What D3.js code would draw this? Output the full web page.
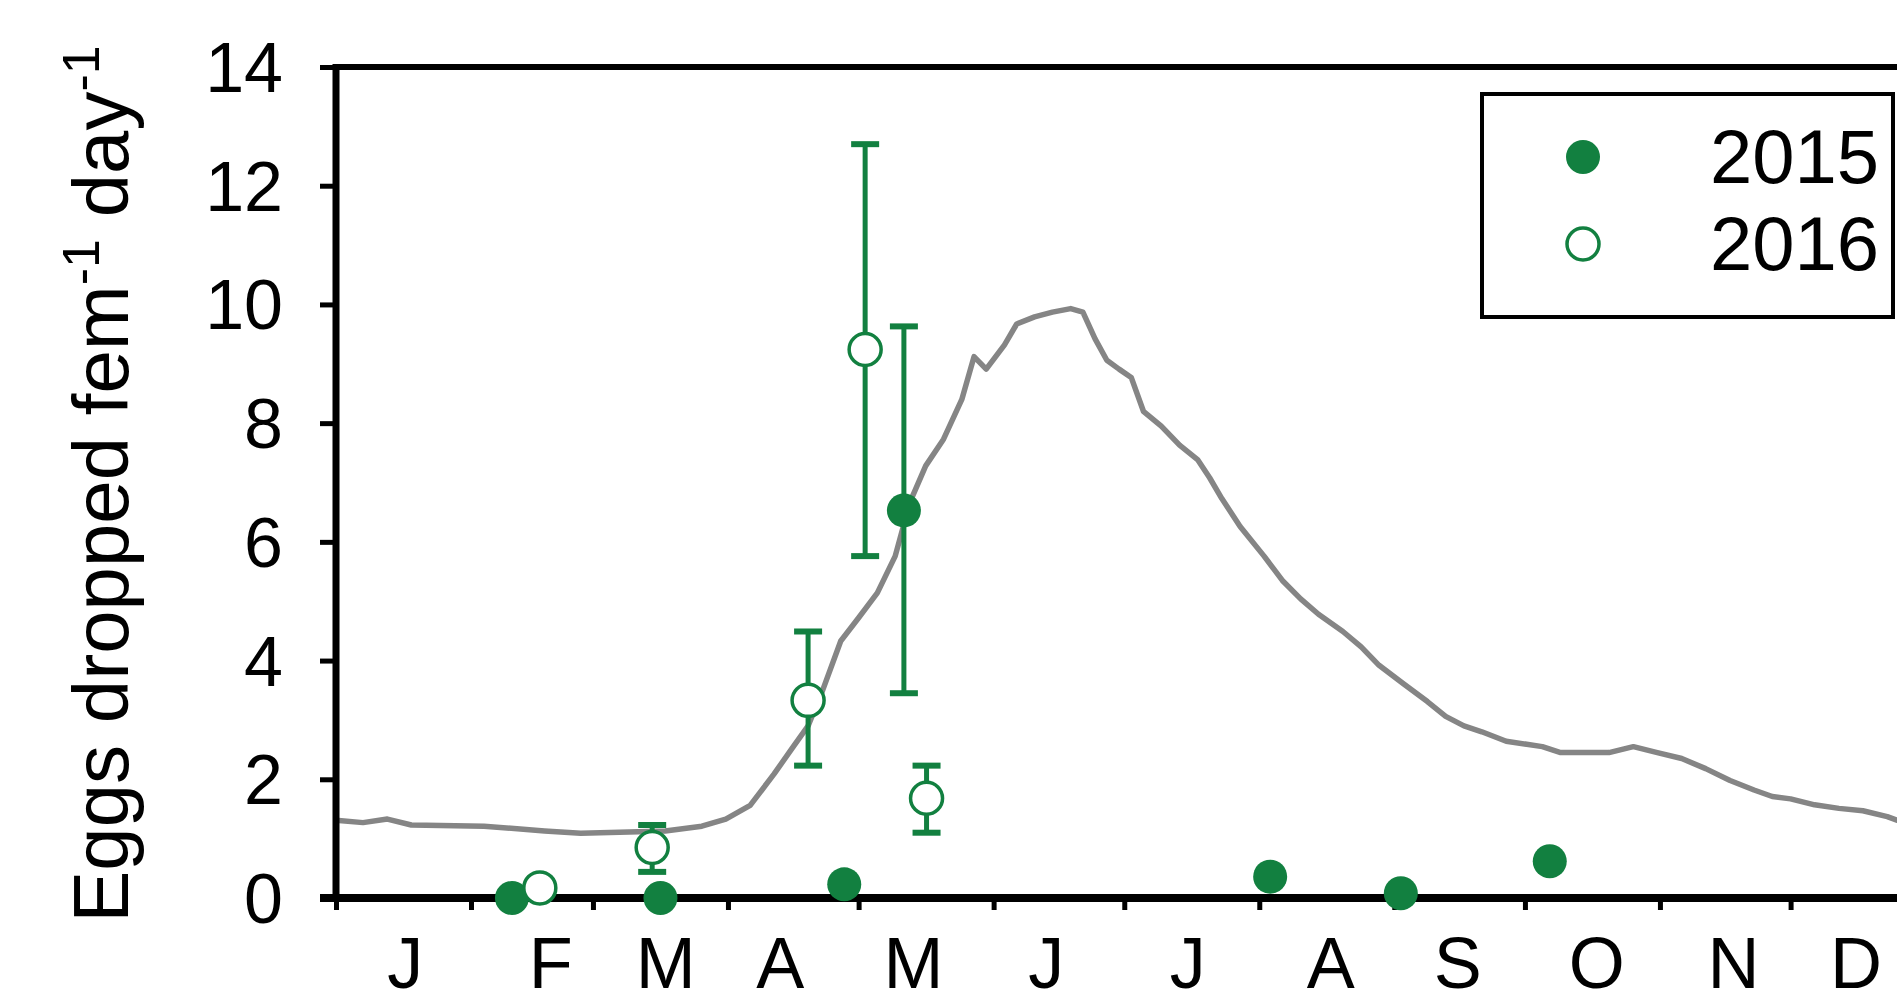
<!DOCTYPE html>
<html><head><meta charset="utf-8">
<script src="https://cdn.jsdelivr.net/npm/d3@7"></script>
<style>html,body{margin:0;padding:0;background:#fff;overflow:hidden}</style>
</head><body><svg id="c" width="1897" height="1004"></svg>
<script>
// ---- data ----
const monthLabels = ["J","F","M","A","M","J","J","A","S","O","N","D"];
const monthLabelDays = [15.9, 49.3, 75.7, 102.0, 132.6, 163.1, 195.6, 228.4, 257.6, 289.5, 320.9, 349.0];
const monthStarts = [0,31,59,90,120,151,181,212,243,273,304,334,365];
const yTicks = [0,2,4,6,8,10,12,14];
const seriesNames = ["2015","2016"];

const days2015 = [40.4, 74.5, 116.7, 130.4, 214.5, 244.5, 278.7];
const vals2015 = [0.0, 0.0, 0.23, 6.53, 0.36, 0.08, 0.62];
const errLo2015 = [null, null, null, 3.45, null, null, null];
const errHi2015 = [null, null, null, 9.63, null, null, null];

const days2016 = [46.8, 72.6, 108.4, 121.5, 135.6];
const vals2016 = [0.17, 0.85, 3.33, 9.24, 1.68];
const errLo2016 = [null, 0.44, 2.23, 5.76, 1.10];
const errHi2016 = [null, 1.23, 4.49, 12.70, 2.23];

const lineDays = [0,6.2,11.8,17.3,34.0,47.9,56.2,67.3,75.6,84.0,89.5,95.1,100.6,104.8,108.4,111.8,115.9,120.1,124.3,128.4,131.8,135.4,139.5,143.7,146.5,149.3,153.5,156.3,160.4,164.5,168.7,171.5,174.3,177.0,179.8,182.6,185.4,189.5,193.7,197.9,200.6,203.4,207.6,213.1,217.3,221.5,225.6,231.2,235.4,239.5,245.1,250.6,254.8,259.0,263.1,268.7,273.4,277.0,281.2,286.8,292.3,297.9,303.4,309.0,314.5,320.1,325.6,329.8,334.0,339.5,345.1,350.6,356.2,358.4,365];
const lineVals = [1.31,1.27,1.33,1.23,1.21,1.13,1.09,1.11,1.13,1.21,1.33,1.56,2.09,2.53,2.90,3.51,4.33,4.73,5.14,5.76,6.67,7.28,7.73,8.40,9.12,8.91,9.32,9.67,9.79,9.87,9.93,9.87,9.42,9.06,8.91,8.77,8.20,7.95,7.63,7.38,7.08,6.73,6.26,5.76,5.35,5.04,4.78,4.49,4.23,3.92,3.61,3.31,3.06,2.90,2.80,2.64,2.59,2.55,2.45,2.45,2.45,2.55,2.45,2.35,2.18,1.98,1.82,1.71,1.67,1.57,1.51,1.47,1.37,1.31,1.25];

// ---- drawing ----
const green = "#128040";
const font = "'Liberation Sans', Arial, sans-serif";
const svg = d3.select("#c");
const x = d3.scaleLinear().domain([0,365]).range([336,1925.6]);
const y = d3.scaleLinear().domain([0,14]).range([898,67]);

// gray line
const lineData = lineDays.map((d,i)=>({d, v: lineVals[i]}));
svg.append("path").datum(lineData)
  .attr("fill","none").attr("stroke","#858585").attr("stroke-width",5.5)
  .attr("stroke-linejoin","round")
  .attr("d", d3.line().x(p=>x(p.d)).y(p=>y(p.v)));

// top border
svg.append("line").attr("x1",x(0)).attr("x2",x(365)).attr("y1",y(14)).attr("y2",y(14))
  .attr("stroke","#000").attr("stroke-width",6);

// y axis
const yAxis = svg.append("g").attr("transform",`translate(${x(0)},0)`)
  .call(d3.axisLeft(y).tickValues(yTicks).tickSize(16).tickPadding(37).tickFormat(d3.format("d")));
yAxis.select(".domain").attr("stroke","#000").attr("stroke-width",7).attr("d",`M0,${y(14)-3}V${y(0)+4}`);
yAxis.selectAll(".tick line").attr("stroke","#000").attr("stroke-width",5);
yAxis.selectAll(".tick text").attr("font-family",font).attr("font-size",70).attr("fill","#000").attr("dy","0.35em");

// x axis
const xAxis = svg.append("g").attr("transform",`translate(0,${y(0)})`)
  .call(d3.axisBottom(x).tickValues(monthStarts).tickSize(12).tickFormat(""));
xAxis.select(".domain").attr("stroke","#000").attr("stroke-width",8).attr("d",`M${x(0)-16},0H1900`);
xAxis.selectAll(".tick line").attr("stroke","#000").attr("stroke-width",5);
svg.append("g").selectAll("text").data(monthLabels).join("text")
  .attr("x",(m,i)=>x(monthLabelDays[i]))
  .attr("y",988)
  .attr("text-anchor","middle").attr("font-family",font).attr("font-size",72).attr("fill","#000")
  .text(m=>m);

// y title
const title = svg.append("text").attr("transform","translate(128,484) rotate(-90)")
  .attr("text-anchor","middle").attr("font-family",font).attr("font-size",78).attr("fill","#000");
title.append("tspan").text("Eggs dropped fem");
title.append("tspan").attr("font-size",52).attr("dy",-29).text("-1");
title.append("tspan").attr("dy",29).text(" day");
title.append("tspan").attr("font-size",52).attr("dy",-29).text("-1");

// series
function series(days, vals, lo, hi, filled){
  const data = days.map((d,i)=>({d, v: vals[i], lo: lo[i], hi: hi[i]}));
  const eb = data.filter(p=>p.lo!=null);
  const g = svg.append("g");
  g.selectAll(".bar").data(eb).join("line")
    .attr("x1",p=>x(p.d)).attr("x2",p=>x(p.d)).attr("y1",p=>y(p.lo)).attr("y2",p=>y(p.hi))
    .attr("stroke",green).attr("stroke-width",5);
  ["lo","hi"].forEach(k=>{
    g.selectAll(".cap"+k).data(eb).join("line")
      .attr("x1",p=>x(p.d)-14).attr("x2",p=>x(p.d)+14).attr("y1",p=>y(p[k])).attr("y2",p=>y(p[k]))
      .attr("stroke",green).attr("stroke-width",6);
  });
  g.selectAll("circle").data(data).join("circle")
    .attr("cx",p=>x(p.d)).attr("cy",p=>y(p.v)).attr("r",filled?17:16)
    .attr("fill",filled?green:"#fff").attr("stroke",green).attr("stroke-width",filled?0:3.5);
}
series(days2015, vals2015, errLo2015, errHi2015, true);
series(days2016, vals2016, errLo2016, errHi2016, false);

// legend
const lg = svg.append("g");
lg.append("rect").attr("x",1482).attr("y",94).attr("width",411).attr("height",223)
  .attr("fill","#fff").attr("stroke","#000").attr("stroke-width",4);
seriesNames.forEach((s,i)=>{
  const cy = 157 + i*87;
  lg.append("circle").attr("cx",1583).attr("cy",cy).attr("r",i===0?17:16)
    .attr("fill",i===0?green:"#fff").attr("stroke",green).attr("stroke-width",i===0?0:3.5);
  lg.append("text").attr("x",1710).attr("y",cy+26).attr("font-family",font).attr("font-size",76)
    .attr("fill","#000").text(s);
});
</script></body></html>
